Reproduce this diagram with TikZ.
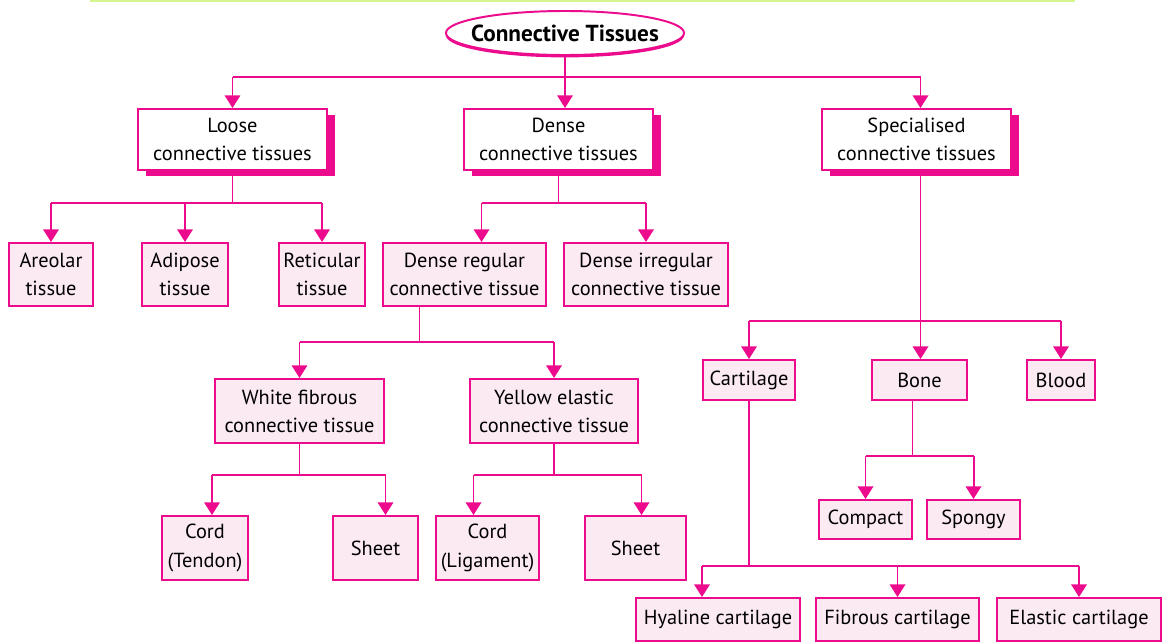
\documentclass[tikz,border=0pt]{standalone}
\usepackage{fontspec}
\setmainfont{PT Sans}
\usepackage{xcolor}
\usetikzlibrary{positioning, calc, arrows.meta, shapes.geometric, shadows}

\definecolor{ctpink}{HTML}{EC0B8D}
\definecolor{ctfill}{HTML}{FCEAF3}
\definecolor{ctlime}{HTML}{D6F58C}

\begin{document}
\begin{tikzpicture}[x=0.025cm, y=-0.025cm, line width=1.4pt, color=ctpink,
    >={Triangle[width=11pt,length=9pt]},
    every node/.style={text=black, font=\fontsize{14.5}{20}\selectfont, align=center, inner sep=0pt},
    tissue/.style={draw=ctpink, fill=ctfill, line width=1.4pt},
    group/.style={draw=ctpink, fill=white, line width=1.4pt, minimum width=4.725cm, minimum height=1.525cm,
        drop shadow={shadow xshift=0.2cm, shadow yshift=-0.15cm, fill=ctpink, opacity=1}},
    link/.style={->}]

    \useasboundingbox (0,0) rectangle (1162,643);
    % thin rule along the top
    \draw[ctlime, line width=1.5pt] (90,0.6) -- (1075,0.6);

    % Root
    \node[ellipse, draw=ctpink, fill=white, line width=1.4pt, inner xsep=-0.24cm, minimum height=1.1cm,
        font=\fontsize{16.5}{18}\selectfont\bfseries,
        drop shadow={shadow xshift=0cm, shadow yshift=-0.06cm, fill=ctpink, opacity=1}] (root) at (565,33) {Connective Tissues};

    % Main groups
    \node[group] (loose) at (232.5,139.5) {Loose\\connective tissues};
    \node[group] (dense) at (558.5,139.5) {Dense\\connective tissues};
    \node[group] (spec)  at (916.5,139.5) {Specialised\\connective tissues};

    % Loose and dense kinds
    \node[tissue, minimum width=2.1cm, minimum height=1.575cm] (areolar) at (51,274.5) {Areolar\\tissue};
    \node[tissue, minimum width=2.15cm, minimum height=1.575cm] (adipose) at (185,274.5) {Adipose\\tissue};
    \node[tissue, minimum width=2.15cm, minimum height=1.575cm] (reticular) at (322,274.5) {Reticular\\tissue};
    \node[tissue, minimum width=4.075cm, minimum height=1.575cm] (densereg) at (464.5,274.5) {Dense regular\\connective tissue};
    \node[tissue, minimum width=4.1cm, minimum height=1.575cm] (denseirr) at (646,274.5) {Dense irregular\\connective tissue};

    % Dense regular kinds
    \node[tissue, minimum width=4.225cm, minimum height=1.6cm] (white) at (299.5,411) {White fibrous\\connective tissue};
    \node[tissue, minimum width=4.2cm, minimum height=1.6cm] (yellow) at (554,411) {Yellow elastic\\connective tissue};
    \node[tissue, minimum width=2.15cm, minimum height=1.6cm] (cordT) at (205,548) {Cord\\(Tendon)};
    \node[tissue, minimum width=2.125cm, minimum height=1.6cm] (sheetT) at (375.5,548) {Sheet};
    \node[tissue, minimum width=2.575cm, minimum height=1.6cm] (cordL) at (487.5,548) {Cord\\(Ligament)};
    \node[tissue, minimum width=2.525cm, minimum height=1.6cm] (sheetL) at (635.5,548) {Sheet};

    % Specialised kinds
    \node[tissue, minimum width=2.3cm, minimum height=1cm] (cartilage) at (749,380) {Cartilage};
    \node[tissue, minimum width=2.375cm, minimum height=1cm] (bone) at (919.5,380) {Bone};
    \node[tissue, minimum width=1.7cm, minimum height=1cm] (blood) at (1061,380) {Blood};
    \node[tissue, minimum width=2.325cm, minimum height=0.975cm] (compact) at (865.5,519.5) {Compact};
    \node[tissue, minimum width=2.325cm, minimum height=0.975cm] (spongy) at (973.5,519.5) {Spongy};
    \node[tissue, minimum width=4.1cm, minimum height=1.075cm] (hyaline) at (718,619.5) {Hyaline cartilage};
    \node[tissue, minimum width=4.075cm, minimum height=1.075cm] (fibrous) at (897.5,619.5) {Fibrous cartilage};
    \node[tissue, minimum width=4.1cm, minimum height=1.075cm] (elastic) at (1079,619.5) {Elastic cartilage};

    % Branch levels
    \coordinate (b0) at (0,77);
    \coordinate (b1) at (0,203);
    \coordinate (b2) at (0,321);
    \coordinate (b3) at (0,342);
    \coordinate (b4) at (0,475);
    \coordinate (b5) at (0,456);
    \coordinate (b6) at (0,566);

    % Shifted entry and exit points
    \coordinate (specin)  at ($(spec.north)+(4,0)$);
    \coordinate (regin)   at ($(densereg.north)+(17,0)$);
    \coordinate (regout)  at ($(densereg.south)+(-45,0)$);
    \coordinate (cordTin) at ($(cordT.north)+(7,0)$);
    \coordinate (sheetTin) at ($(sheetT.north)+(10,0)$);
    \coordinate (cordLin) at ($(cordL.north)+(-14,0)$);
    \coordinate (sheetLin) at ($(sheetL.north)+(6,0)$);
    \coordinate (boneout) at ($(bone.south)+(-7,0)$);
    \coordinate (hyain)   at ($(hyaline.north)+(-16,0)$);

    % Root to groups
    \draw[link] (root) -- (root |- dense.north);
    \draw (loose |- b0) -- (specin |- b0);
    \draw[link] (loose |- b0) -- (loose);
    \draw[link] (specin |- b0) -- (specin);

    % Loose
    \draw (loose) -- (loose |- b1);
    \draw (areolar |- b1) -- (reticular |- b1);
    \foreach \n in {areolar, adipose, reticular}
        \draw[link] (\n |- b1) -- (\n);

    % Dense
    \draw (dense) -- (dense |- b1);
    \draw (regin |- b1) -- (denseirr |- b1);
    \draw[link] (regin |- b1) -- (regin);
    \draw[link] (denseirr |- b1) -- (denseirr);

    \draw (regout) -- (regout |- b3);
    \draw (white |- b3) -- (yellow |- b3);
    \draw[link] (white |- b3) -- (white);
    \draw[link] (yellow |- b3) -- (yellow);

    \draw (white) -- (white |- b4);
    \draw (cordTin |- b4) -- (sheetTin |- b4);
    \draw[link] (cordTin |- b4) -- (cordTin);
    \draw[link] (sheetTin |- b4) -- (sheetTin);

    \draw (yellow) -- (yellow |- b4);
    \draw (cordLin |- b4) -- (sheetLin |- b4);
    \draw[link] (cordLin |- b4) -- (cordLin);
    \draw[link] (sheetLin |- b4) -- (sheetLin);

    % Specialised
    \draw[link] (specin |- spec.south) -- (specin |- bone.north);
    \draw (cartilage |- b2) -- (blood |- b2);
    \draw[link] (cartilage |- b2) -- (cartilage);
    \draw[link] (blood |- b2) -- (blood);

    \draw (boneout) -- (boneout |- b5);
    \draw (compact |- b5) -- (spongy |- b5);
    \draw[link] (compact |- b5) -- (compact);
    \draw[link] (spongy |- b5) -- (spongy);

    \draw (cartilage) -- (cartilage |- b6);
    \draw (hyain |- b6) -- (elastic |- b6);
    \draw[link] (hyain |- b6) -- (hyain);
    \draw[link] (fibrous |- b6) -- (fibrous);
    \draw[link] (elastic |- b6) -- (elastic);
\end{tikzpicture}
\end{document}
